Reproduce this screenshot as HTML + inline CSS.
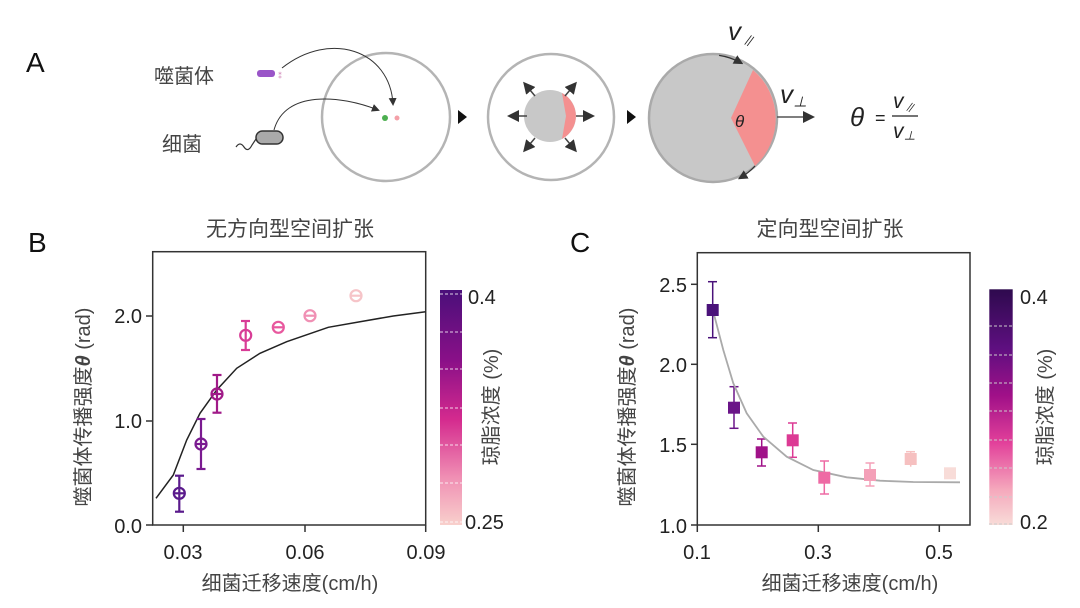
<!DOCTYPE html>
<html><head><meta charset="utf-8"><style>
html,body{margin:0;padding:0;background:#fff}
svg{display:block}
text{font-family:"Liberation Sans","Noto Sans CJK SC",sans-serif}
</style></head><body>
<svg width="1080" height="608" viewBox="0 0 1080 608" xmlns="http://www.w3.org/2000/svg">
<defs>
<linearGradient id="gb" x1="0" y1="0" x2="0" y2="1">
<stop offset="0" stop-color="#4a0f7a"/><stop offset="0.3" stop-color="#8a1088"/><stop offset="0.55" stop-color="#d42a8e"/><stop offset="0.8" stop-color="#f090b4"/><stop offset="1" stop-color="#f8d0cc"/></linearGradient>
<linearGradient id="gc" x1="0" y1="0" x2="0" y2="1">
<stop offset="0" stop-color="#2e0a4e"/><stop offset="0.25" stop-color="#5e0f80"/><stop offset="0.45" stop-color="#a01088"/><stop offset="0.65" stop-color="#e2409a"/><stop offset="0.85" stop-color="#f5a8bc"/><stop offset="1" stop-color="#f8dcd8"/></linearGradient>
<marker id="ah" markerWidth="8" markerHeight="8" refX="6" refY="4" orient="auto"><path d="M0,0L8,4L0,8z" fill="#333"/></marker>
</defs>
<!-- Panel A -->
<text x="26" y="72" font-size="28" fill="#111">A</text>
<text x="154" y="83" font-size="20" fill="#444">噬菌体</text>
<text x="162" y="151" font-size="20" fill="#444">细菌</text>
<rect x="257" y="70" width="18" height="7" rx="3" fill="#9a55c8"/>
<text x="276" y="78" font-size="8" fill="#c060a0">⁑</text>
<path d="M236,147 q4,-6 8,0 q4,6 8,-2 l4,-6" fill="none" stroke="#333" stroke-width="1.2"/>
<rect x="256" y="131" width="27" height="13" rx="6.5" fill="#aaa" stroke="#333" stroke-width="1.5"/>
<circle cx="386" cy="117" r="64" fill="none" stroke="#b4b4b4" stroke-width="2.5"/>
<path d="M282,68 C330,30 390,50 393,104" fill="none" stroke="#333" stroke-width="1" marker-end="url(#ah)"/>
<path d="M274,130 C285,90 340,95 378,110" fill="none" stroke="#333" stroke-width="1" marker-end="url(#ah)"/>
<circle cx="385" cy="118" r="3" fill="#4caf50"/><circle cx="397" cy="118" r="2.5" fill="#f4a0a8"/>
<path d="M458,110 L467,117 L458,124z" fill="#111"/>
<circle cx="551" cy="117" r="63" fill="none" stroke="#b4b4b4" stroke-width="2.5"/>
<circle cx="550" cy="116" r="26" fill="#c8c8c8"/>
<path d="M562,93 A26,26 0 0 1 562,139 L566,116z" fill="#f49090"/>
<g stroke="#444" stroke-width="1.5" marker-end="url(#ah)">
<line x1="527" y1="116" x2="510" y2="116"/><line x1="576" y1="116" x2="592" y2="116"/>
<line x1="535" y1="96" x2="525" y2="84"/><line x1="565" y1="96" x2="575" y2="84"/>
<line x1="535" y1="138" x2="525" y2="150"/><line x1="565" y1="138" x2="575" y2="150"/></g>
<path d="M627,110 L636,117 L627,124z" fill="#111"/>
<circle cx="713" cy="118" r="64" fill="#c8c8c8" stroke="#aaa" stroke-width="2.5"/>
<path d="M753,70 A64,64 0 0 1 755,166 L731,118z" fill="#f49090"/>
<path d="M732,58 A64,64 0 0 1 752,70" fill="none" stroke="#333" stroke-width="1.2" marker-end="url(#ah)" transform="rotate(-12 713 118)"/>
<path d="M755,166 A64,64 0 0 1 740,178" fill="none" stroke="#333" stroke-width="1.2" marker-end="url(#ah)"/>
<line x1="777" y1="117" x2="812" y2="117" stroke="#555" stroke-width="1.5" marker-end="url(#ah)"/>
<text x="735" y="127" font-size="17" font-style="italic" fill="#222" font-family="Liberation Serif,serif">θ</text>
<text x="728" y="40" font-size="26" font-style="italic" fill="#222" font-family="Liberation Serif,serif">v<tspan font-size="14" dy="6">∥</tspan></text>
<text x="780" y="103" font-size="26" font-style="italic" fill="#222" font-family="Liberation Serif,serif">v<tspan font-size="14" dy="4">⊥</tspan></text>
<text x="850" y="126" font-size="26" font-style="italic" fill="#222" font-family="Liberation Serif,serif">θ</text>
<text x="875" y="124" font-size="18" fill="#222">=</text>
<text x="893" y="108" font-size="21" font-style="italic" fill="#222" font-family="Liberation Serif,serif">v<tspan font-size="12" dy="4">∥</tspan></text>
<line x1="892" y1="116" x2="918" y2="116" stroke="#222" stroke-width="1.2"/>
<text x="893" y="138" font-size="21" font-style="italic" fill="#222" font-family="Liberation Serif,serif">v<tspan font-size="12" dy="2">⊥</tspan></text>

<!-- Panel B -->
<text x="28" y="252" font-size="28" fill="#111">B</text>
<text x="290" y="236" font-size="21" fill="#444" text-anchor="middle">无方向型空间扩张</text>
<rect x="152.7" y="251.7" width="273" height="273.3" fill="none" stroke="#333" stroke-width="1.5"/>
<g stroke="#333" stroke-width="1.5"><line x1="146" y1="525" x2="153" y2="525"/><line x1="146" y1="421" x2="153" y2="421"/><line x1="146" y1="316" x2="153" y2="316"/>
<line x1="183.3" y1="525" x2="183.3" y2="532"/><line x1="305" y1="525" x2="305" y2="532"/><line x1="425.7" y1="525" x2="425.7" y2="532"/></g>
<g font-size="20" fill="#222" text-anchor="end"><text x="142" y="533">0.0</text><text x="142" y="428">1.0</text><text x="142" y="323">2.0</text></g>
<g font-size="20" fill="#222" text-anchor="middle"><text x="183" y="559">0.03</text><text x="305" y="559">0.06</text><text x="426" y="559">0.09</text></g>
<text x="290" y="590" font-size="20" fill="#444" text-anchor="middle">细菌迁移速度(cm/h)</text>
<text transform="translate(90,407) rotate(-90)" font-size="20" fill="#444" text-anchor="middle">噬菌体传播强度<tspan font-style="italic" font-weight="bold">θ</tspan> (rad)</text>
<polyline points="156,498.3 173.3,475 186.7,440 200,413.3 216.7,390 236.7,368.3 260,353.3 286.7,341.7 328.3,327.3 360,321.7 393.3,316 425.7,311.7" fill="none" stroke="#222" stroke-width="1.5"/>
<g fill="none" stroke-width="2.2">
<g stroke="#5a1a8c"><line x1="179.3" y1="475.7" x2="179.3" y2="511.7"/><line x1="175" y1="475.7" x2="184" y2="475.7"/><line x1="175" y1="511.7" x2="184" y2="511.7"/><circle cx="179.3" cy="493.3" r="5.5"/><line x1="174" y1="493.3" x2="185" y2="493.3"/></g>
<g stroke="#7a1a90"><line x1="201" y1="419" x2="201" y2="469"/><line x1="196.5" y1="419" x2="205.5" y2="419"/><line x1="196.5" y1="469" x2="205.5" y2="469"/><circle cx="201" cy="444" r="5.5"/><line x1="196" y1="444" x2="206" y2="444"/></g>
<g stroke="#a01a88"><line x1="217" y1="375" x2="217" y2="412.7"/><line x1="212.5" y1="375" x2="221.5" y2="375"/><line x1="212.5" y1="412.7" x2="221.5" y2="412.7"/><circle cx="217" cy="394" r="5.5"/><line x1="212" y1="394" x2="222" y2="394"/></g>
<g stroke="#d83c96"><line x1="245.7" y1="321" x2="245.7" y2="350"/><line x1="241" y1="321" x2="250" y2="321"/><line x1="241" y1="350" x2="250" y2="350"/><circle cx="245.7" cy="335.3" r="5.5"/></g>
<g stroke="#e8589e"><circle cx="278.3" cy="327.3" r="5.5"/><line x1="273" y1="327.3" x2="284" y2="327.3"/></g>
<g stroke="#f090b4"><circle cx="310" cy="315.7" r="5.5"/><line x1="305" y1="315.7" x2="315" y2="315.7"/></g>
<g stroke="#f6c4c8"><circle cx="356" cy="295.7" r="5.5"/><line x1="351" y1="295.7" x2="361" y2="295.7"/></g>
</g>
<rect x="440" y="290" width="22" height="235" fill="url(#gb)"/>
<g stroke="#fff" stroke-width="1" stroke-dasharray="3,2" opacity="0.8"><line x1="440" y1="294" x2="462" y2="294"/><line x1="440" y1="332" x2="462" y2="332"/><line x1="440" y1="369" x2="462" y2="369"/><line x1="440" y1="408" x2="462" y2="408"/><line x1="440" y1="445" x2="462" y2="445"/><line x1="440" y1="483" x2="462" y2="483"/><line x1="440" y1="522" x2="462" y2="522"/></g>
<text x="468" y="304" font-size="20" fill="#222">0.4</text><text x="465" y="529" font-size="20" fill="#222">0.25</text>
<text transform="translate(498,407) rotate(-90)" font-size="20" fill="#444" text-anchor="middle">琼脂浓度 (%)</text>

<!-- Panel C -->
<text x="570" y="252" font-size="28" fill="#111">C</text>
<text x="830" y="236" font-size="21" fill="#444" text-anchor="middle">定向型空间扩张</text>
<rect x="697.3" y="252.7" width="272.7" height="272.3" fill="none" stroke="#333" stroke-width="1.5"/>
<g stroke="#333" stroke-width="1.5"><line x1="691" y1="525" x2="698" y2="525"/><line x1="691" y1="444.3" x2="698" y2="444.3"/><line x1="691" y1="364.3" x2="698" y2="364.3"/><line x1="691" y1="284.3" x2="698" y2="284.3"/>
<line x1="697.3" y1="525" x2="697.3" y2="532"/><line x1="818.3" y1="525" x2="818.3" y2="532"/><line x1="939.3" y1="525" x2="939.3" y2="532"/></g>
<g font-size="20" fill="#222" text-anchor="end"><text x="687" y="533">1.0</text><text x="687" y="452">1.5</text><text x="687" y="372">2.0</text><text x="687" y="292">2.5</text></g>
<g font-size="20" fill="#222" text-anchor="middle"><text x="697" y="559">0.1</text><text x="818" y="559">0.3</text><text x="939" y="559">0.5</text></g>
<text x="850" y="590" font-size="20" fill="#444" text-anchor="middle">细菌迁移速度(cm/h)</text>
<text transform="translate(634,407) rotate(-90)" font-size="20" fill="#444" text-anchor="middle">噬菌体传播强度<tspan font-style="italic" font-weight="bold">θ</tspan> (rad)</text>
<g stroke-width="1.5" fill="none">
<g stroke="#4a127a"><line x1="712.7" y1="281.7" x2="712.7" y2="337.7"/><line x1="708" y1="281.7" x2="717" y2="281.7"/><line x1="708" y1="337.7" x2="717" y2="337.7"/></g>
<g stroke="#6a1488"><line x1="734" y1="386.7" x2="734" y2="428.3"/><line x1="729.5" y1="386.7" x2="738.5" y2="386.7"/><line x1="729.5" y1="428.3" x2="738.5" y2="428.3"/></g>
<g stroke="#a01288"><line x1="761.7" y1="439" x2="761.7" y2="466"/><line x1="757" y1="439" x2="766" y2="439"/><line x1="757" y1="466" x2="766" y2="466"/></g>
<g stroke="#dc3a94"><line x1="792.7" y1="423" x2="792.7" y2="457.3"/><line x1="788" y1="423" x2="797" y2="423"/><line x1="788" y1="457.3" x2="797" y2="457.3"/></g>
<g stroke="#ee6aa4"><line x1="824.3" y1="461" x2="824.3" y2="494"/><line x1="820" y1="461" x2="829" y2="461"/><line x1="820" y1="494" x2="829" y2="494"/></g>
<g stroke="#f4a0b8"><line x1="870" y1="463" x2="870" y2="486"/><line x1="865.5" y1="463" x2="874.5" y2="463"/><line x1="865.5" y1="486" x2="874.5" y2="486"/></g>
<g stroke="#f6c0c0"><line x1="910.7" y1="451.7" x2="910.7" y2="466.7"/><line x1="906" y1="451.7" x2="915" y2="451.7"/></g>
</g>
<polyline points="713.3,311.7 723.3,350 733.3,383.3 746.7,413.3 763.3,436.7 786.7,456.7 813.3,470 846.7,477.3 880,480.7 913.3,482 960,482.3" fill="none" stroke="#aaa" stroke-width="1.8"/>
<g>
<rect x="706.7" y="304" width="12" height="12" fill="#4a127a"/>
<rect x="728" y="401.7" width="12" height="12" fill="#6a1488"/>
<rect x="755.7" y="446.3" width="12" height="12" fill="#a01288"/>
<rect x="786.7" y="434.3" width="12" height="12" fill="#dc3a94"/>
<rect x="818.3" y="471.7" width="12" height="12" fill="#ee6aa4"/>
<rect x="864" y="469" width="12" height="12" fill="#f4a0b8"/>
<rect x="904.7" y="453" width="12" height="12" fill="#f6c0c0"/>
<rect x="944" y="467.3" width="12" height="12" fill="#f8dcd8"/>
</g>
<rect x="989.3" y="289.3" width="23.4" height="235.7" fill="url(#gc)"/>
<g stroke="#ccc" stroke-width="1" stroke-dasharray="3,2"><line x1="989" y1="326" x2="1013" y2="326"/><line x1="989" y1="355" x2="1013" y2="355"/><line x1="989" y1="383" x2="1013" y2="383"/><line x1="989" y1="411" x2="1013" y2="411"/><line x1="989" y1="440" x2="1013" y2="440"/><line x1="989" y1="468" x2="1013" y2="468"/><line x1="989" y1="497" x2="1013" y2="497"/><line x1="989" y1="524" x2="1013" y2="524"/></g>
<text x="1020" y="304" font-size="20" fill="#222">0.4</text><text x="1020" y="529" font-size="20" fill="#222">0.2</text>
<text transform="translate(1052,407) rotate(-90)" font-size="20" fill="#444" text-anchor="middle">琼脂浓度 (%)</text>
</svg>
</body></html>
